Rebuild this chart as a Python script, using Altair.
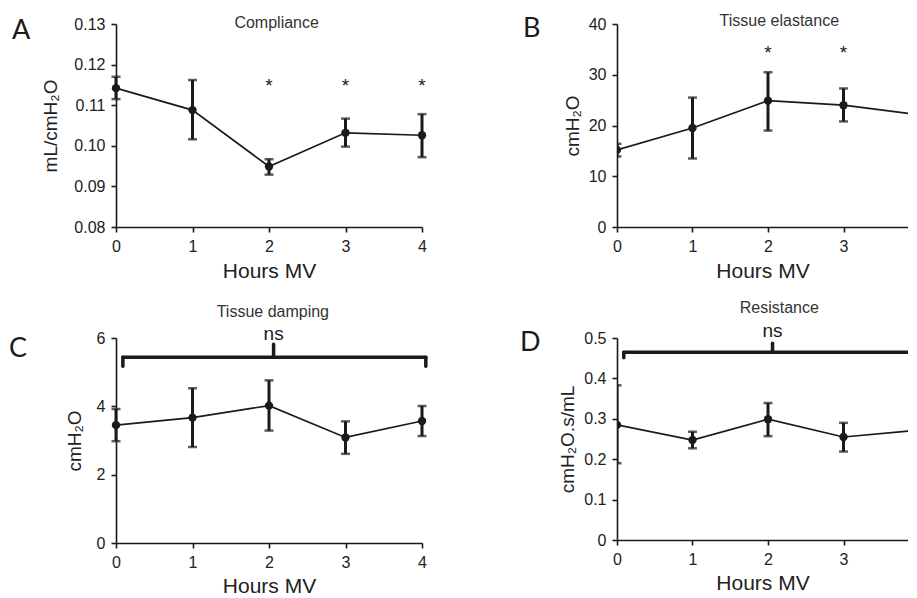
import altair as alt
import pandas as pd

# ---------------- data ----------------
hours = [0, 1, 2, 3, 4]

comp_mean = [0.1142, 0.1088, 0.0949, 0.1032, 0.1026]
comp_lo = [0.1115, 0.1016, 0.0929, 0.0998, 0.0972]
comp_hi = [0.1170, 0.1162, 0.0967, 0.1067, 0.1078]

elast_mean = [15.2, 19.5, 24.9, 24.0, 22.1]
elast_lo = [13.9, 13.5, 19.0, 20.8, 18.1]
elast_hi = [16.4, 25.5, 30.5, 27.3, 28.0]

damp_mean = [3.45, 3.67, 4.02, 3.09, 3.57]
damp_lo = [2.98, 2.81, 3.29, 2.61, 3.13]
damp_hi = [3.92, 4.53, 4.76, 3.56, 4.01]

res_mean = [0.285, 0.2475, 0.299, 0.255, 0.272]
res_lo = [0.190, 0.227, 0.257, 0.219, 0.191]
res_hi = [0.383, 0.268, 0.339, 0.290, 0.356]

star_hours = [2, 3, 4]
comp_star_y = 0.1160
elast_star_y = 35.3

# significance bracket ("ns") in data units: [x_start, x_end, y_line, y_end, x_mid, y_mid_top, y_text]
damp_bracket = [0.09, 4.05, 5.44, 5.17, 2.06, 5.82, 5.94]
res_bracket = [0.09, 4.05, 0.4645, 0.451, 2.06, 0.487, 0.503]

FONT = "Liberation Sans"
INK = "#1a1a1a"


def panel(letter, name, mean, lo, hi, ydom, yticks, yfmt, ytitle, width, height,
          name_x, name_y, letter_x, letter_y, ytitle_pad, xtitle_pad,
          xmax=4.0, stars=None, bracket=None):
    clip = xmax < 4.0
    df = pd.DataFrame({"h": hours, "m": mean, "lo": lo, "hi": hi})
    xs = alt.Scale(domain=[0, xmax], nice=False)
    ys = alt.Scale(domain=ydom, nice=False, zero=False)
    xvals = [v for v in hours if v <= xmax]
    xax = alt.Axis(values=xvals, format="d", title="Hours MV", labelFlush=False,
                   labelPadding=6, titlePadding=xtitle_pad, titleFontSize=21)
    yax = alt.Axis(values=yticks, labelExpr=yfmt, title=ytitle, labelFlush=False,
                   labelPadding=6, titlePadding=ytitle_pad, titleFontSize=19)
    base = alt.Chart(df)
    line = base.mark_line(color=INK, strokeWidth=1.7, clip=clip).encode(
        x=alt.X("h:Q", scale=xs, axis=xax), y=alt.Y("m:Q", scale=ys, axis=yax))
    err = base.mark_rule(color=INK, strokeWidth=3, clip=clip).encode(
        x="h:Q", y="lo:Q", y2="hi:Q")
    cap_lo = base.mark_tick(color=INK, orient="horizontal", size=9, thickness=2.5,
                            clip=clip).encode(x="h:Q", y="lo:Q")
    cap_hi = base.mark_tick(color=INK, orient="horizontal", size=9, thickness=2.5,
                            clip=clip).encode(x="h:Q", y="hi:Q")
    pts = base.mark_circle(color=INK, size=70, opacity=1, clip=clip).encode(
        x="h:Q", y="m:Q")
    layers = [line, err, cap_lo, cap_hi, pts]

    title_df = pd.DataFrame({"t": [name], "x": [name_x]})
    layers.append(alt.Chart(title_df).mark_text(
        font=FONT, fontSize=16, color="#333", baseline="alphabetic", align="center"
    ).encode(x="x:Q", y=alt.value(name_y), text="t:N"))

    letter_df = pd.DataFrame({"t": [letter]})
    layers.append(alt.Chart(letter_df).mark_text(
        font="Lato", fontSize=27, color=INK, baseline="alphabetic", align="left"
    ).encode(x=alt.value(letter_x), y=alt.value(letter_y), text="t:N"))

    if stars is not None:
        sdf = pd.DataFrame({"h": star_hours, "y": [stars] * len(star_hours)})
        layers.append(alt.Chart(sdf).mark_text(
            text="*", font=FONT, fontSize=19, color=INK, baseline="middle", dy=5,
            clip=clip
        ).encode(x="h:Q", y="y:Q"))

    if bracket is not None:
        x0, x1, yl, ye, xm, ymt, yt = bracket
        bdf = pd.DataFrame({
            "x": [x0, x0, x1, xm],
            "x2": [x1, x0, x1, xm],
            "y": [yl, ye, ye, yl],
            "y2": [yl, yl, yl, ymt],
        })
        layers.append(alt.Chart(bdf).mark_rule(
            color=INK, strokeWidth=3.5, strokeCap="round", clip=clip
        ).encode(x="x:Q", x2="x2:Q", y="y:Q", y2="y2:Q"))
        ndf = pd.DataFrame({"x": [xm], "y": [yt], "t": ["ns"]})
        layers.append(alt.Chart(ndf).mark_text(
            font=FONT, fontSize=19, color=INK, baseline="alphabetic"
        ).encode(x="x:Q", y="y:Q", text="t:N"))

    return alt.layer(*layers).properties(width=width, height=height)


RIGHT_W = 291
RIGHT_XMAX = RIGHT_W / 75.5

A = panel("A", "Compliance", comp_mean, comp_lo, comp_hi, [0.08, 0.13],
          [0.08, 0.09, 0.10, 0.11, 0.12, 0.13], "format(datum.value, '.2f')",
          "mL/cmH\u2082O", 306, 203, 2.1, 4, -104, 15, 13, 6, stars=comp_star_y)
B = panel("B", "Tissue elastance", elast_mean, elast_lo, elast_hi, [0, 40],
          [0, 10, 20, 30, 40], "format(datum.value, 'd')",
          "cmH\u2082O", RIGHT_W, 203, 2.15, 2, -94, 13, 6, 6,
          xmax=RIGHT_XMAX, stars=elast_star_y)
C = panel("C", "Tissue damping", damp_mean, damp_lo, damp_hi, [0, 6],
          [0, 2, 4, 6], "format(datum.value, 'd')",
          "cmH\u2082O", 306, 205, 2.05, -21, -107, 19, 12, 5, bracket=damp_bracket)
D = panel("D", "Resistance", res_mean, res_lo, res_hi, [0, 0.5],
          [0, 0.1, 0.2, 0.3, 0.4, 0.5], "datum.value == 0 ? '0' : format(datum.value, '.1f')",
          "cmH\u2082O.s/mL", RIGHT_W, 202, 2.15, -25, -97, 13, 6, 5,
          xmax=RIGHT_XMAX, bracket=res_bracket)

chart = alt.concat(
    A, B, C, D, columns=2, spacing={"row": 111, "column": 195}, bounds="flush"
).properties(
    padding={"left": 1, "top": 5, "right": 0, "bottom": 0}, background="white"
).configure_view(stroke=None).configure_axis(
    grid=False, domainColor=INK, domainWidth=1.6, tickColor=INK, tickWidth=1.6,
    tickSize=5, labelFont=FONT, labelFontSize=16, labelColor="#222",
    titleFont=FONT, titleFontWeight="normal", titleColor="#222"
)

chart.save("out.html", embed_options={"renderer": "svg", "actions": False})
